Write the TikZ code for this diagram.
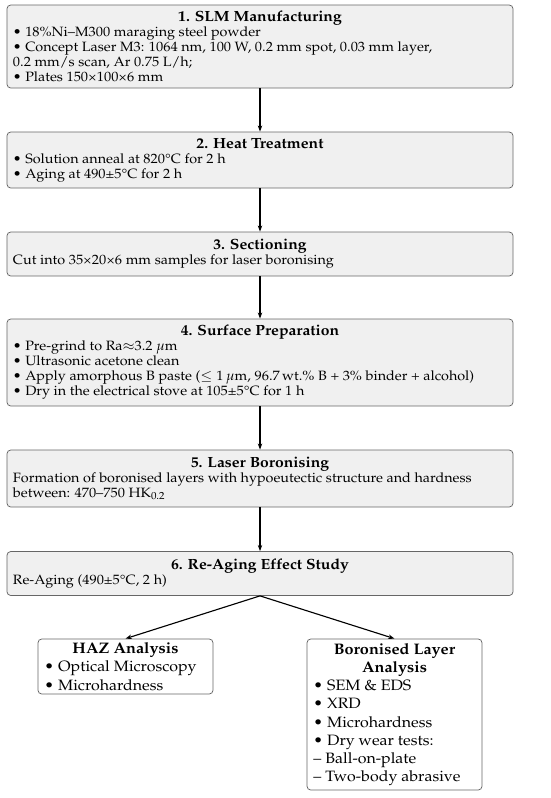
\documentclass[tikz,border=0pt]{standalone}
\usepackage[T1]{fontenc}
\usepackage{mathpazo}
\usepackage{textcomp}
\usepackage{graphicx}
\usetikzlibrary{arrows.meta}
\newcommand{\boxtitle}[1]{{\centering\fontsize{11.8}{12}\selectfont\textbf{#1}\par}}
\newcommand{\branchtitle}[1]{{\centering\fontsize{12.2}{14.6}\selectfont\textbf{#1}\par}}
\newcommand{\stepcontent}[1]{\scalebox{1.065}[1]{\parbox{371.1pt}{\fontsize{10.8}{12}\selectfont\raggedright #1}}}
\newcommand{\branchcontent}[1]{\scalebox{1.065}[1]{\parbox{121.7pt}{\fontsize{12}{14.6}\selectfont\raggedright #1}}}
\tikzset{
  x=0.8pt, y=-0.8pt,
  stepbox/.style={draw=black!60, fill=black!6, rounded corners=3pt, line width=0.6pt,
    inner xsep=4.8pt, inner ysep=0pt},
  branchbox/.style={draw=black!60, fill=white, rounded corners=3pt, line width=0.6pt,
    inner xsep=5.2pt, inner ysep=0pt},
  flowarrow/.style={-{Stealth[length=5pt,width=3.6pt]}, line width=0.9pt, black}
}
\begin{document}
\begin{tikzpicture}
\useasboundingbox (0,0) rectangle (550,798);

\node[stepbox, minimum height=66.4pt] (b1) at (260,46.5) {\stepcontent{\boxtitle{1. SLM Manufacturing}
\textbullet\ 18\%Ni--M300 maraging steel powder\\
\textbullet\ Concept Laser M3: 1064 nm, 100 W, 0.2 mm spot, 0.03 mm layer,\\
0.2 mm/s scan, Ar 0.75 L/h;\\
\textbullet\ Plates 150\texttimes 100\texttimes 6 mm}};

\node[stepbox, minimum height=44.8pt] (b2) at (260,160) {\stepcontent{\boxtitle{2. Heat Treatment}
\textbullet\ Solution anneal at 820\textdegree C for 2 h\\
\textbullet\ Aging at 490\textpm 5\textdegree C for 2 h}};

\node[stepbox, minimum height=35.2pt] (b3) at (260,254) {\stepcontent{\boxtitle{3. Sectioning}
Cut into 35\texttimes 20\texttimes 6 mm samples for laser boronising}};

\node[stepbox, minimum height=69.6pt] (b4) at (260,362.5) {\stepcontent{\boxtitle{4. Surface Preparation}
\textbullet\ Pre-grind to Ra$\approx$3.2 $\mu$m\\
\textbullet\ Ultrasonic acetone clean\\
\textbullet\ Apply amorphous B paste ($\leq 1\,\mu$m, 96.7\,wt.\% B + 3\% binder + alcohol)\\
\textbullet\ Dry in the electrical stove at 105\textpm 5\textdegree C for 1 h}};

\node[stepbox, minimum height=45.6pt] (b5) at (260,478.5) {\stepcontent{\boxtitle{5. Laser Boronising}
Formation of boronised layers with hypoeutectic structure and hardness\\
between: 470--750 HK$_{0.2}$}};

\node[stepbox, minimum height=35.2pt] (b6) at (260,573.5) {\stepcontent{\boxtitle{6. Re-Aging Effect Study}
Re-Aging (490\textpm 5\textdegree C, 2 h)}};

\node[branchbox, minimum height=44pt] (haz) at (125.5,666.5) {\branchcontent{\branchtitle{HAZ Analysis}
\textbullet\ Optical Microscopy\\
\textbullet\ Microhardness}};

\node[branchbox, minimum height=120.8pt] (bla) at (394.5,714.5) {\branchcontent{\branchtitle{Boronised Layer\\ Analysis}
\textbullet\ SEM \& EDS\\
\textbullet\ XRD\\
\textbullet\ Microhardness\\
\textbullet\ Dry wear tests:\\
-- Ball-on-plate\\
-- Two-body abrasive}};

\draw[flowarrow] (b1.south) -- (b2.north);
\draw[flowarrow] (b2.south) -- (b3.north);
\draw[flowarrow] (b3.south) -- (b4.north);
\draw[flowarrow] (b4.south) -- (b5.north);
\draw[flowarrow] (b5.south) -- (b6.north);
\draw[flowarrow] (b6.south) -- (haz.north);
\draw[flowarrow] (b6.south) -- (bla.north);
\end{tikzpicture}
\end{document}
